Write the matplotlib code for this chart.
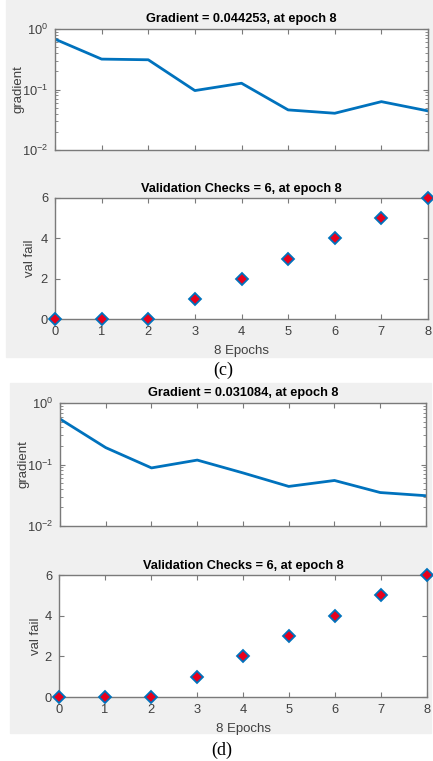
import matplotlib
matplotlib.use("Agg")
import matplotlib.pyplot as plt
from matplotlib.patches import Rectangle
from matplotlib.ticker import LogLocator, NullFormatter

plt.rcParams['font.family'] = ['Liberation Sans', 'DejaVu Sans']

epochs = [0, 1, 2, 3, 4, 5, 6, 7, 8]
grad_c = [0.68, 0.318, 0.31, 0.096, 0.127, 0.046, 0.0405, 0.063, 0.044253]
grad_d = [0.55, 0.188, 0.088, 0.118, 0.073, 0.044, 0.055, 0.035, 0.031084]
valfail_c = [0, 0, 0, 1, 2, 3, 4, 5, 6]
valfail_d = [0, 0, 0, 1, 2, 3, 4, 5, 6]
title_grad_c = "Gradient = 0.044253, at epoch 8"
title_grad_d = "Gradient = 0.031084, at epoch 8"
title_val = "Validation Checks = 6, at epoch 8"
panel_labels = ["(c)", "(d)"]

W, H = 433, 761
fig = plt.figure(figsize=(W / 100, H / 100), dpi=100)
fig.patch.set_facecolor('white')

BLUE = (0, 0.447, 0.741)
EDGE = '#7a7a7a'
TXT = '#404040'
GRAY = (0.94, 0.94, 0.94)


def rect(x0, y0, x1, y1):
    return [x0 / W, 1 - y1 / H, (x1 - x0) / W, (y1 - y0) / H]


fig.patches.append(Rectangle((6 / W, 1 - 357 / H), 427 / W, 357 / H,
                             transform=fig.transFigure, color=GRAY, zorder=-10))
fig.patches.append(Rectangle((10 / W, 1 - 733 / H), 421 / W, 350 / H,
                             transform=fig.transFigure, color=GRAY, zorder=-10))


def style(ax):
    ax.set_facecolor('white')
    for s in ax.spines.values():
        s.set_color(EDGE)
        s.set_linewidth(1.0)
    ax.tick_params(which='both', direction='in', top=True, right=True,
                   color=EDGE, labelcolor=TXT, labelsize=9.3, pad=5)
    ax.tick_params(which='major', length=3.5)
    ax.tick_params(which='minor', length=2)


def grad_ax(pos, data, title, ylx):
    ax = fig.add_axes(rect(*pos))
    style(ax)
    ax.plot(epochs, data, color=BLUE, lw=2)
    ax.set_yscale('log')
    ax.set_ylim(1e-2, 1e0)
    ax.set_xlim(0, 8)
    ax.set_xticks(epochs)
    ax.set_xticklabels([])
    ax.yaxis.set_major_locator(LogLocator(base=10, numticks=5))
    ax.yaxis.set_minor_locator(LogLocator(base=10, subs=range(2, 10), numticks=12))
    ax.yaxis.set_minor_formatter(NullFormatter())
    ax.set_ylabel('gradient', fontsize=9.5, color=TXT)
    ax.yaxis.set_label_coords(ylx, 0.5)
    ax.set_title(title, fontsize=9.2, fontweight='bold', color='black', pad=5)
    return ax


def val_ax(pos, data, title, ylx):
    ax = fig.add_axes(rect(*pos))
    style(ax)
    ax.plot(epochs, data, linestyle='none', marker='D', markersize=6,
            markerfacecolor='#e8001c', markeredgecolor=BLUE, markeredgewidth=1.3,
            clip_on=False, zorder=5)
    ax.set_xlim(0, 8)
    ax.set_ylim(0, 6)
    ax.set_xticks(epochs)
    ax.set_yticks([0, 2, 4, 6])
    ax.set_ylabel('val fail', fontsize=9.5, color=TXT)
    ax.yaxis.set_label_coords(ylx, 0.5)
    ax.set_xlabel('8 Epochs', fontsize=9.5, color=TXT, labelpad=5)
    ax.set_title(title, fontsize=9.2, fontweight='bold', color='black', pad=4)
    return ax


grad_ax((55, 29, 428, 150), grad_c, title_grad_c, -0.082)
val_ax((55, 198, 428, 319), valfail_c, title_val, -0.05)
grad_ax((60, 403, 426, 526), grad_d, title_grad_d, -0.084)
val_ax((59, 575, 427, 697), valfail_d, title_val, -0.045)

fig.text(223 / W, 1 - 370 / H, panel_labels[0], ha='center', va='center',
         fontsize=13, family='Liberation Serif')
fig.text(222 / W, 1 - 750 / H, panel_labels[1], ha='center', va='center',
         fontsize=13, family='Liberation Serif')

fig.savefig('out.png', dpi=100)
